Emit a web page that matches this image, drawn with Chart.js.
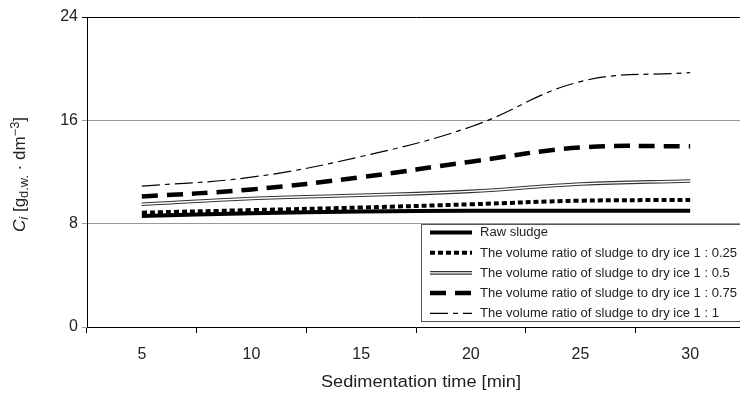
<!DOCTYPE html>
<html>
<head>
<meta charset="utf-8">
<script src="https://cdn.jsdelivr.net/npm/chart.js@4/dist/chart.umd.min.js"></script>
<style>
html,body{margin:0;padding:0;background:#fff;overflow:hidden;width:740px;height:403px;}
#wrap{position:relative;width:752px;height:403px;}
</style>
</head>
<body>
<div id="wrap"><canvas id="c"></canvas></div>
<script>
const categories = ['5','10','15','20','25','30'];
const yTicks = [0, 8, 16, 24];
const rawSludge = [8.6, 8.8, 8.95, 9.0, 9.0, 9.0];
const ratio025 = [8.85, 9.05, 9.25, 9.5, 9.78, 9.83];
const ratio05 = [9.5, 9.95, 10.2, 10.5, 11.07, 11.3];
const ratio075 = [10.1, 10.65, 11.6, 12.8, 13.9, 14.0];
const ratio1 = [10.9, 11.6, 13.2, 15.5, 19.0, 19.7];
const seriesLabels = [
  'Raw sludge',
  'The volume ratio of sludge to dry ice 1 : 0.25',
  'The volume ratio of sludge to dry ice 1 : 0.5',
  'The volume ratio of sludge to dry ice 1 : 0.75',
  'The volume ratio of sludge to dry ice 1 : 1'
];

const FONT = '"Liberation Sans", Arial, sans-serif';
const base = {fill:false, pointRadius:0, tension:0.4, borderCapStyle:'butt', order:1};
const datasets = [
  Object.assign({}, base, {label:seriesLabels[0], data:rawSludge, borderColor:'#000', borderWidth:4}),
  Object.assign({}, base, {label:seriesLabels[1], data:ratio025, borderColor:'#000', borderWidth:4, borderDash:[5,3]}),
  Object.assign({}, base, {label:seriesLabels[2], data:ratio05, borderColor:'#333', borderWidth:3.6, dbl:true}),
  Object.assign({}, base, {label:'', data:ratio05, borderColor:'#fff', borderWidth:1.4, inner:true, order:0}),
  Object.assign({}, base, {label:seriesLabels[3], data:ratio075, borderColor:'#000', borderWidth:4.5, borderDash:[16,9]}),
  Object.assign({}, base, {label:seriesLabels[4], data:ratio1, borderColor:'#000', borderWidth:1.2, borderDash:[18,5,5,5]})
];

function stretchText(ctx, text, x, y, font, targetW, align){
  ctx.font = font;
  const w = ctx.measureText(text).width;
  const sx = targetW ? targetW / w : 1;
  ctx.save();
  ctx.translate(x, y);
  ctx.scale(sx, 1);
  ctx.textAlign = align || 'left';
  ctx.fillText(text, 0, 0);
  ctx.restore();
}

const extras = {
  id:'extras',
  afterDraw(chart){
    const ctx = chart.ctx;
    // legend box
    const bx = 421.5, by = 224.5, bw = 330, bh = 97;
    ctx.save();
    ctx.fillStyle = '#fff';
    ctx.fillRect(bx, by, bw, bh);
    ctx.strokeStyle = '#555';
    ctx.lineWidth = 1;
    ctx.strokeRect(bx, by, bw, bh);
    const items = chart.data.datasets.filter(d => !d.inner);
    ctx.font = '12px ' + FONT;
    const longest = Math.max(...items.map(d => ctx.measureText(d.label).width));
    const lsx = 257 / longest;
    items.forEach((d, i) => {
      const y = 232.5 + i * 20.2;
      ctx.save();
      ctx.strokeStyle = d.borderColor;
      ctx.lineWidth = d.borderWidth;
      ctx.setLineDash(d.borderDash || []);
      ctx.beginPath();
      ctx.moveTo(430, y);
      ctx.lineTo(472, y);
      ctx.stroke();
      if (d.dbl) {
        ctx.strokeStyle = '#fff';
        ctx.lineWidth = 1.4;
        ctx.beginPath();
        ctx.moveTo(430, y);
        ctx.lineTo(472, y);
        ctx.stroke();
      }
      ctx.restore();
      ctx.fillStyle = '#222';
      ctx.textBaseline = 'middle';
      ctx.font = '12px ' + FONT;
      const w = ctx.measureText(d.label).width;
      stretchText(ctx, d.label, 480, y + 0.5, '12px ' + FONT, w * lsx, 'left');
    });
    // x title
    ctx.fillStyle = '#222';
    ctx.textBaseline = 'middle';
    stretchText(ctx, 'Sedimentation time [min]', 421, 383, '16px ' + FONT, 200, 'center');
    // y title with sub/superscripts
    const pieces = [
      {t:'C', f:'italic 16px ' + FONT, dy:0},
      {t:'i', f:'italic 12px ' + FONT, dy:3},
      {t:' [g', f:'16px ' + FONT, dy:0},
      {t:'d.w.', f:'12px ' + FONT, dy:3},
      {t:' \u00B7 dm', f:'16px ' + FONT, dy:0},
      {t:'\u22123', f:'12px ' + FONT, dy:-6},
      {t:']', f:'16px ' + FONT, dy:0}
    ];
    let total = 0;
    pieces.forEach(p => { ctx.font = p.f; p.w = ctx.measureText(p.t).width; total += p.w; });
    const ysx = 115 / total;
    ctx.translate(25, 174.5);
    ctx.rotate(-Math.PI / 2);
    ctx.scale(ysx, 1);
    ctx.textAlign = 'left';
    ctx.textBaseline = 'alphabetic';
    let x = -total / 2;
    pieces.forEach(p => { ctx.font = p.f; ctx.fillText(p.t, x, p.dy); x += p.w; });
    ctx.restore();
  }
};

new Chart(document.getElementById('c'), {
  type:'line',
  data:{labels:categories, datasets:datasets},
  options:{
    responsive:true,
    maintainAspectRatio:false,
    animation:false,
    layout:{padding:{top:17, right:7, bottom:0, left:0}},
    plugins:{legend:{display:false}, tooltip:{enabled:false}},
    scales:{
      x:{
        type:'category',
        offset:true,
        grid:{offset:true, drawOnChartArea:false, drawTicks:true, tickLength:6, color:'#000'},
        border:{color:'#000', width:1},
        ticks:{font:{size:16, family:FONT}, color:'#222', padding:12, maxRotation:0},
        afterFit(s){ s.height = 76; }
      },
      y:{
        min:0, max:24,
        afterBuildTicks(s){ s.ticks = yTicks.map(v => ({value:v})); },
        grid:{color:(c) => (c.tick && c.tick.value === 24) ? '#000' : '#999', tickLength:5, drawTicks:true},
        border:{color:'#000', width:1},
        ticks:{font:{size:16, family:FONT}, color:'#222', padding:4},
        afterFit(s){ s.width = 87; }
      }
    }
  },
  plugins:[extras]
});
</script>
</body>
</html>
